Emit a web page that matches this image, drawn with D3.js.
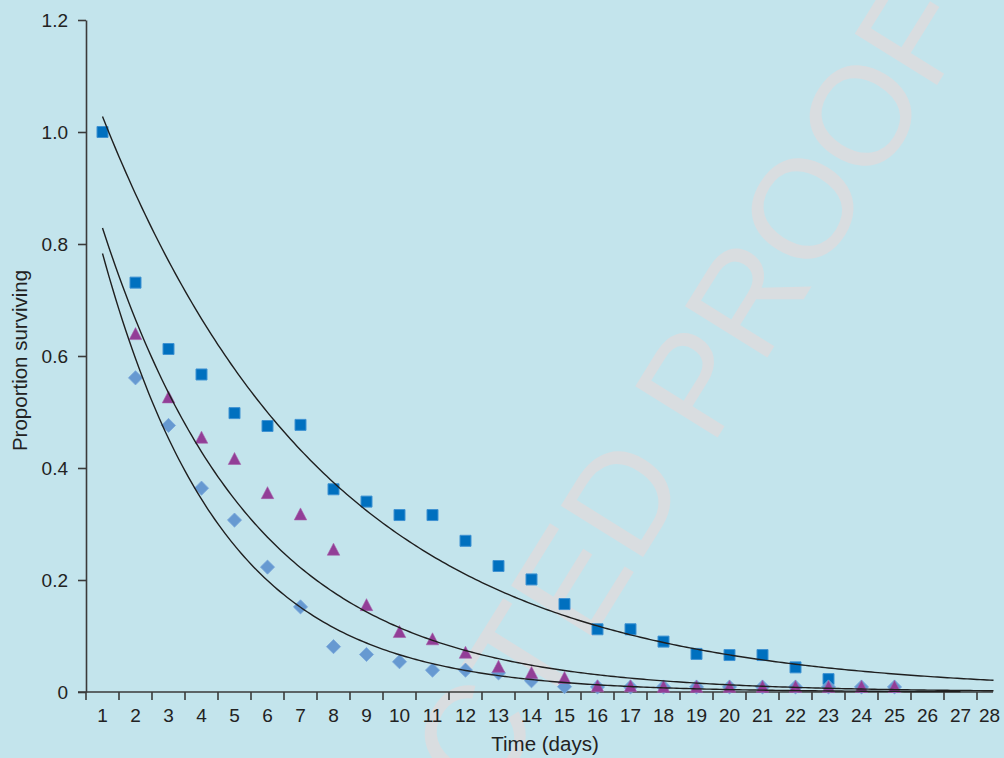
<!DOCTYPE html>
<html>
<head>
<meta charset="utf-8">
<script src="https://cdn.jsdelivr.net/npm/d3@7/dist/d3.min.js"></script>
<style>
  html, body { margin: 0; padding: 0; background: #C3E4EC; }
  svg { display: block; font-family: "Liberation Sans", Arial, Helvetica, sans-serif; }
</style>
</head>
<body>
<svg id="chart" width="1004" height="758"></svg>
<script>
// Time axis categories (days)
const days = [1, 2, 3, 4, 5, 6, 7, 8, 9, 10, 11, 12, 13, 14, 15, 16, 17, 18, 19, 20,
              21, 22, 23, 24, 25, 26, 27, 28];

// Proportion surviving, series 1 (squares)
const squareDays = [1, 2, 3, 4, 5, 6, 7, 8, 9, 10, 11, 12, 13, 14, 15, 16, 17, 18, 19, 20, 21, 22, 23];
const squareValues = [1.0, 0.731, 0.6125, 0.567, 0.498, 0.475, 0.477, 0.362, 0.340, 0.316, 0.316,
                      0.270, 0.225, 0.201, 0.157, 0.112, 0.112, 0.090, 0.068, 0.066, 0.066, 0.044, 0.023];

// Series 2 (triangles)
const triangleDays = [2, 3, 4, 5, 6, 7, 8, 9, 10, 11, 12, 13, 14, 15, 16, 17, 18, 19, 20, 21, 22, 23, 24, 25];
const triangleValues = [0.640, 0.527, 0.455, 0.417, 0.356, 0.318, 0.255, 0.156, 0.108, 0.095, 0.071,
                        0.046, 0.035, 0.026, 0.011, 0.011, 0.010, 0.010, 0.010, 0.010, 0.010, 0.010, 0.010, 0.010];

// Series 3 (diamonds)
const diamondDays = [2, 3, 4, 5, 6, 7, 8, 9, 10, 11, 12, 13, 14, 15, 16, 17, 18, 19, 20, 21, 22, 23, 24, 25];
const diamondValues = [0.561, 0.476, 0.364, 0.307, 0.223, 0.152, 0.081, 0.067, 0.054, 0.039, 0.039,
                       0.034, 0.020, 0.0095, 0.009, 0.009, 0.009, 0.009, 0.009, 0.009, 0.009, 0.009, 0.009, 0.009];

// Exponential trendlines, y = a * exp(-b * day), one per series (squares, triangles, diamonds)
const trendA = [1.187, 1.032, 1.030];
const trendB = [0.1443, 0.2195, 0.274];
const trendFirstDay = [1, 1, 1];
const trendLastDay = [28, 28, 27];

// Y axis ticks
const yTicks = [0, 0.2, 0.4, 0.6, 0.8, 1.0, 1.2];
const yTickLabels = ["0", "0.2", "0.4", "0.6", "0.8", "1.0", "1.2"];

const xTitle = "Time (days)";
const yTitle = "Proportion surviving";
const watermark = "UNCORRECTED PROOF";

// ---- layout ----
const svg = d3.select("#chart");
const W = 1004, H = 758;
const plotLeft = 86, plotTop = 20, plotBottom = 692;
const band = 33;
const axisEnd = 993;

svg.append("rect").attr("width", W).attr("height", H).attr("fill", "#C3E4EC");

// faint diagonal proof stamp, behind everything
svg.append("text")
  .attr("transform", "translate(976.4,21.5) rotate(-58.1)")
  .attr("text-anchor", "end")
  .attr("font-size", 141)
  .attr("fill", "#D9DDE0")
  .text(watermark);

const xBand = d3.scaleBand().domain(days).range([plotLeft, plotLeft + band * days.length]).padding(0);
const xLin = d3.scaleLinear().domain([0.5, days.length + 0.5]).range([plotLeft, plotLeft + band * days.length]);
const y = d3.scaleLinear().domain([0, 1.2]).range([plotBottom, plotTop]);
const cx = d => xBand(d) + xBand.bandwidth() / 2;

const axisColor = "#3a3a3a";

// y axis
const yAxis = svg.append("g")
  .attr("transform", `translate(${plotLeft},0)`)
  .call(d3.axisLeft(y).tickValues(yTicks).tickSize(8).tickSizeOuter(0).tickPadding(10)
    .tickFormat((d, i) => yTickLabels[i]));
yAxis.select(".domain").attr("stroke", axisColor).attr("stroke-width", 1.6);
yAxis.selectAll(".tick line").attr("stroke", axisColor).attr("stroke-width", 1.6);
yAxis.selectAll(".tick text").attr("font-size", 19).attr("fill", "#222")
  .attr("font-family", "Liberation Sans, Arial, sans-serif");

// x axis: labels centred in each day band, ticks on the band boundaries
const xAxis = svg.append("g")
  .attr("transform", `translate(0,${plotBottom})`)
  .call(d3.axisBottom(xBand).tickSize(0).tickPadding(16.5));
xAxis.select(".domain").remove();
xAxis.selectAll(".tick text").attr("font-size", 19).attr("fill", "#222")
  .attr("font-family", "Liberation Sans, Arial, sans-serif");
xAxis.selectAll(".tick").filter(d => d === days[days.length - 1]).select("text").attr("dx", -4);

svg.append("g").selectAll("line").data(days).join("line")
  .attr("x1", d => xBand(d)).attr("x2", d => xBand(d))
  .attr("y1", plotBottom).attr("y2", plotBottom + 8)
  .attr("stroke", axisColor).attr("stroke-width", 1.6);
svg.append("line")
  .attr("x1", plotLeft - 8).attr("x2", axisEnd)
  .attr("y1", plotBottom).attr("y2", plotBottom)
  .attr("stroke", axisColor).attr("stroke-width", 1.6);

// axis titles
svg.append("text")
  .attr("x", 545).attr("y", 750.5)
  .attr("text-anchor", "middle")
  .attr("font-size", 20.5).attr("fill", "#222")
  .text(xTitle);
svg.append("text")
  .attr("transform", "translate(26.5,360.5) rotate(-90)")
  .attr("text-anchor", "middle")
  .attr("font-size", 20.5).attr("fill", "#222")
  .text(yTitle);

// markers
const marks = svg.append("g");

const squares = squareDays.map((d, i) => ({ d, v: squareValues[i] }));
const triangles = triangleDays.map((d, i) => ({ d, v: triangleValues[i] }));
const diamonds = diamondDays.map((d, i) => ({ d, v: diamondValues[i] }));

marks.append("g").selectAll("path").data(squares).join("path")
  .attr("d", d3.symbol(d3.symbolSquare, 121))
  .attr("transform", p => `translate(${cx(p.d)},${y(p.v)})`)
  .attr("fill", "#0070BF")
  .attr("stroke", "#3F92D2").attr("stroke-width", 1);

marks.append("g").selectAll("path").data(diamonds).join("path")
  .attr("d", d3.symbol(d3.symbolSquare, 100))
  .attr("transform", p => `translate(${cx(p.d)},${y(p.v)}) rotate(45)`)
  .attr("fill", "#6699D1")
  .attr("stroke", "#7AA8DA").attr("stroke-width", 0.8);

const triW = 12.5, triH = 12;
const triPath = `M0,${-triH / 2}L${triW / 2},${triH / 2}L${-triW / 2},${triH / 2}Z`;
marks.append("g").selectAll("path").data(triangles).join("path")
  .attr("d", triPath)
  .attr("transform", p => `translate(${cx(p.d)},${y(p.v)})`)
  .attr("fill", "#923E97")
  .attr("stroke", "#A65FAA").attr("stroke-width", 0.6);

// trendlines
const line = d3.line().x(p => xLin(p[0])).y(p => y(p[1])).curve(d3.curveLinear);
trendA.forEach((a, i) => {
  const b = trendB[i];
  const pts = d3.range(trendFirstDay[i], trendLastDay[i] + 0.001, 0.1).map(t => [t, a * Math.exp(-b * t)]);
  svg.append("path")
    .attr("d", line(pts))
    .attr("fill", "none")
    .attr("stroke", "#1f1f1f")
    .attr("stroke-width", 1.4);
});
</script>
</body>
</html>
